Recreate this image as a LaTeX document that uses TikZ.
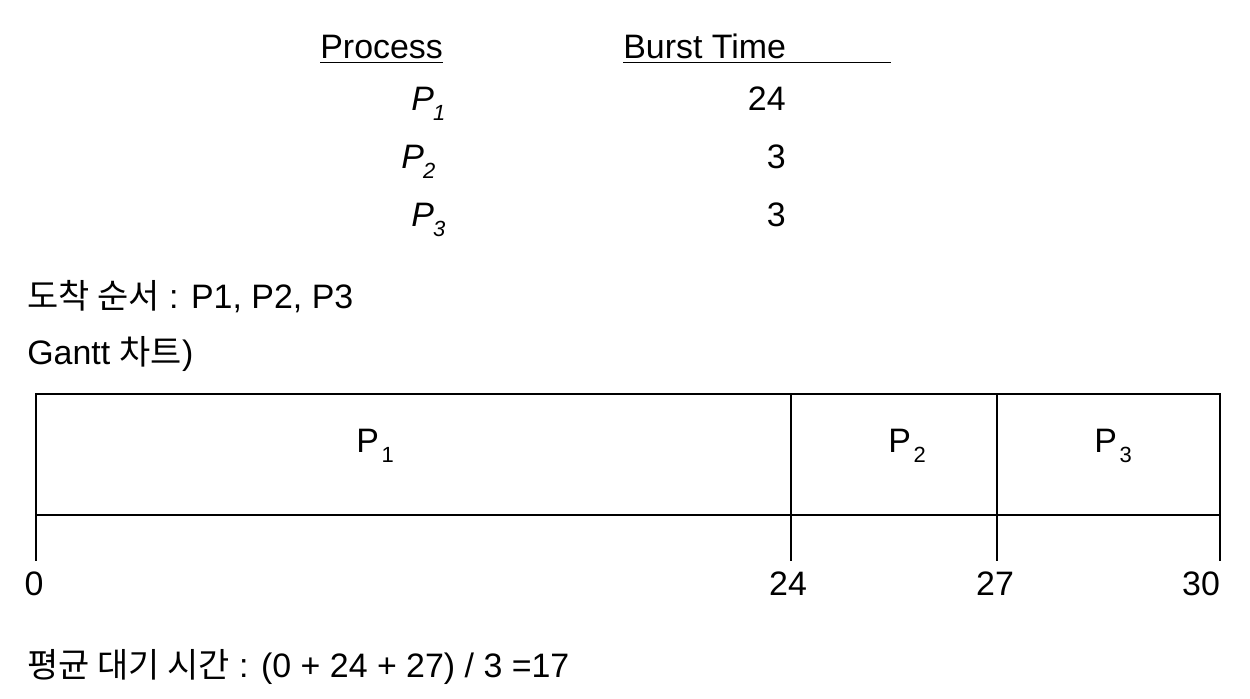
\documentclass[tikz,border=0pt]{standalone}
\usepackage{fontspec}
\setmainfont{Liberation Sans}
\newfontfamily\krfont{Noto Sans CJK KR}
\usetikzlibrary{positioning}
\newcommand\psub[2][1.5pt]{\hspace{#1}\raisebox{-6pt}{\fontsize{12.5}{12}\selectfont #2}}

\begin{document}
\begin{tikzpicture}[x=0.02cm, y=-0.02cm,
  txt/.style={inner sep=0pt, font=\fontsize{19.3}{23}\selectfont},
  rule/.style={line width=0.8pt},
  cell/.style={draw, line width=0.6pt}
]
  \useasboundingbox (0,0) rectangle (1250,698);
  % table header
  \node[txt, anchor=base west] (hproc) at (320,58) {Process};
  \node[txt, anchor=base west] (hburst) at (623,58) {Burst Time};
  \coordinate (hend) at (891,62);
  \draw[rule] ([yshift=-2.5pt]hproc.base west) -- ([yshift=-2.5pt]hproc.base east);
  \draw[rule] ([yshift=-2.5pt]hburst.base west) -- ([yshift=-2.5pt]hburst.base west -| hend);
  % table rows
  \foreach \i/\y/\x/\t in {1/110/411/24, 2/168/401/3, 3/226/411/3}{
    \node[txt, anchor=base west] (p\i) at (\x,\y) {\textit{P\psub[-0.5pt]{\i}}};
    \node[txt, anchor=base east] (b\i) at (786,\y) {\t};
  }
  % arrival order
  \node[txt, anchor=base west] (order) at (27,308) {{\krfont 도착 순서} : P1, P2, P3};
  \node[txt, anchor=base west] (gtitle) at (27,364) {Gantt {\krfont 차트})};
  % gantt chart
  \draw[cell] (36,394) rectangle (1220,515);
  \foreach \x in {791,997}
    \draw[cell] (\x,394) -- (\x,515);
  \foreach \i/\x in {1/375,2/907,3/1113}
    \node[txt, anchor=base] (g\i) at (\x,452) {P\psub{\i}};
  % time axis
  \foreach \t/\x/\lx in {0/36/34, 24/791/788, 27/997/995, 30/1220/1201}{
    \coordinate (t\t) at (\x,515);
    \coordinate (tb\t) at (\x,561);
    \draw[cell] (t\t) -- (tb\t);
    \node[txt, anchor=base] (l\t) at (\lx,595) {\t};
  }
  % average waiting time
  \node[txt, anchor=base west] (avg) at (27,677) {{\krfont 평균 대기 시간} : (0 + 24 + 27) / 3 =17};
\end{tikzpicture}
\end{document}
